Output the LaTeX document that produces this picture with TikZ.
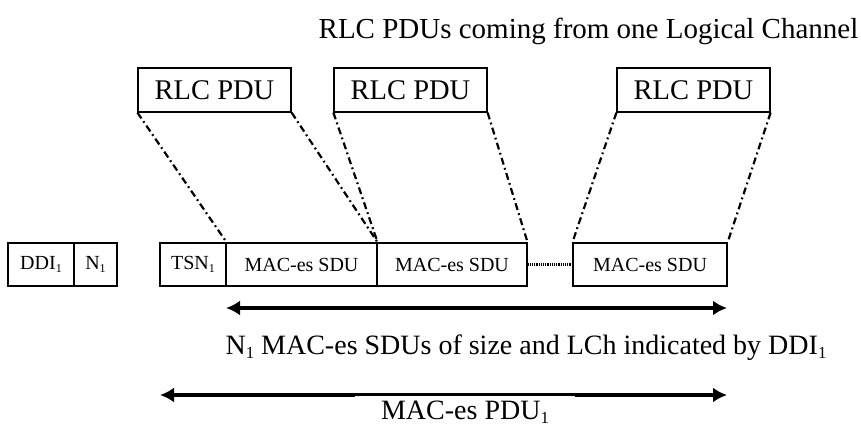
\documentclass[tikz,border=0pt]{standalone}
\usepackage{fontspec}
\setmainfont{Liberation Serif}
\usepackage{graphicx}
\usetikzlibrary{arrows.meta}
\newcommand{\subone}{\raisebox{-0.3ex}{\scalebox{0.6}{1}}}

\begin{document}
\begin{tikzpicture}[x=1pt,y=-1pt,line width=1.2pt,
    field/.style={draw,inner sep=0pt,minimum height=43pt,font=\fontsize{20}{24}\selectfont},
    rlcbox/.style={draw,inner sep=0pt,minimum width=153pt,minimum height=44pt,font=\fontsize{28.5}{32}\selectfont},
    caption/.style={inner sep=0pt,font=\fontsize{28}{32}\selectfont},
    mapline/.style={line width=2.2pt,dash pattern=on 7pt off 3.5pt on 1.8pt off 3.5pt},
    span/.style={line width=3.5pt,{Latex[length=14pt,width=15pt]}-{Latex[length=14pt,width=15pt]}}]
    \useasboundingbox (0,0) rectangle (861,426);

    \node[caption,font=\fontsize{29}{33}\selectfont] (title) at (588.5,31) {RLC PDUs coming from one Logical Channel};

    \node[rlcbox] (rlc1) at (214.5,90) {RLC PDU};
    \node[rlcbox] (rlc2) at (410.5,90) {RLC PDU};
    \node[rlcbox] (rlc3) at (693.5,90) {RLC PDU};

    \node[field,minimum width=66pt] (ddi) at (41,264.5) {DDI\subone};
    \node[field,minimum width=43pt] (n1) at (95.5,264.5) {N\subone};

    \node[field,minimum width=66pt] (tsn) at (193,264.5) {TSN\subone};
    \node[field,minimum width=151pt] (sdu1) at (301.5,264.5) {MAC-es SDU};
    \node[field,minimum width=150pt] (sdu2) at (452,264.5) {MAC-es SDU};
    \node[field,minimum width=154pt] (sdu3) at (650,264.5) {MAC-es SDU};

    \draw[line width=2.6pt,dash pattern=on 1.2pt off 1pt] (sdu2.east) -- (sdu3.west);

    \draw[mapline] (rlc1.south west) -- (tsn.north east);
    \draw[mapline] (rlc1.south east) -- (sdu1.north east);
    \draw[mapline] (rlc2.south west) -- (sdu1.north east);
    \draw[mapline] (rlc2.south east) -- (sdu2.north east);
    \draw[mapline] (rlc3.south west) -- (sdu3.north west);
    \draw[mapline] (rlc3.south east) -- (sdu3.north east);

    \coordinate (sduleft) at (226,308);
    \coordinate (sduright) at (727,308);
    \coordinate (pduleft) at (160,395);
    \coordinate (pduright) at (727,395);

    \draw[span] (sduleft) -- (sduright);
    \node[caption] (sdutext) at (526,348) {N\subone{} MAC-es SDUs of size and LCh indicated by DDI\subone};

    \draw[span] (pduleft) -- (pduright);
    \node[caption,fill=white,anchor=north,minimum width=220pt,inner ysep=1pt,text height=22.5pt,text depth=1pt] (pdutext) at (465,395.5) {MAC-es PDU\subone};
\end{tikzpicture}
\end{document}
